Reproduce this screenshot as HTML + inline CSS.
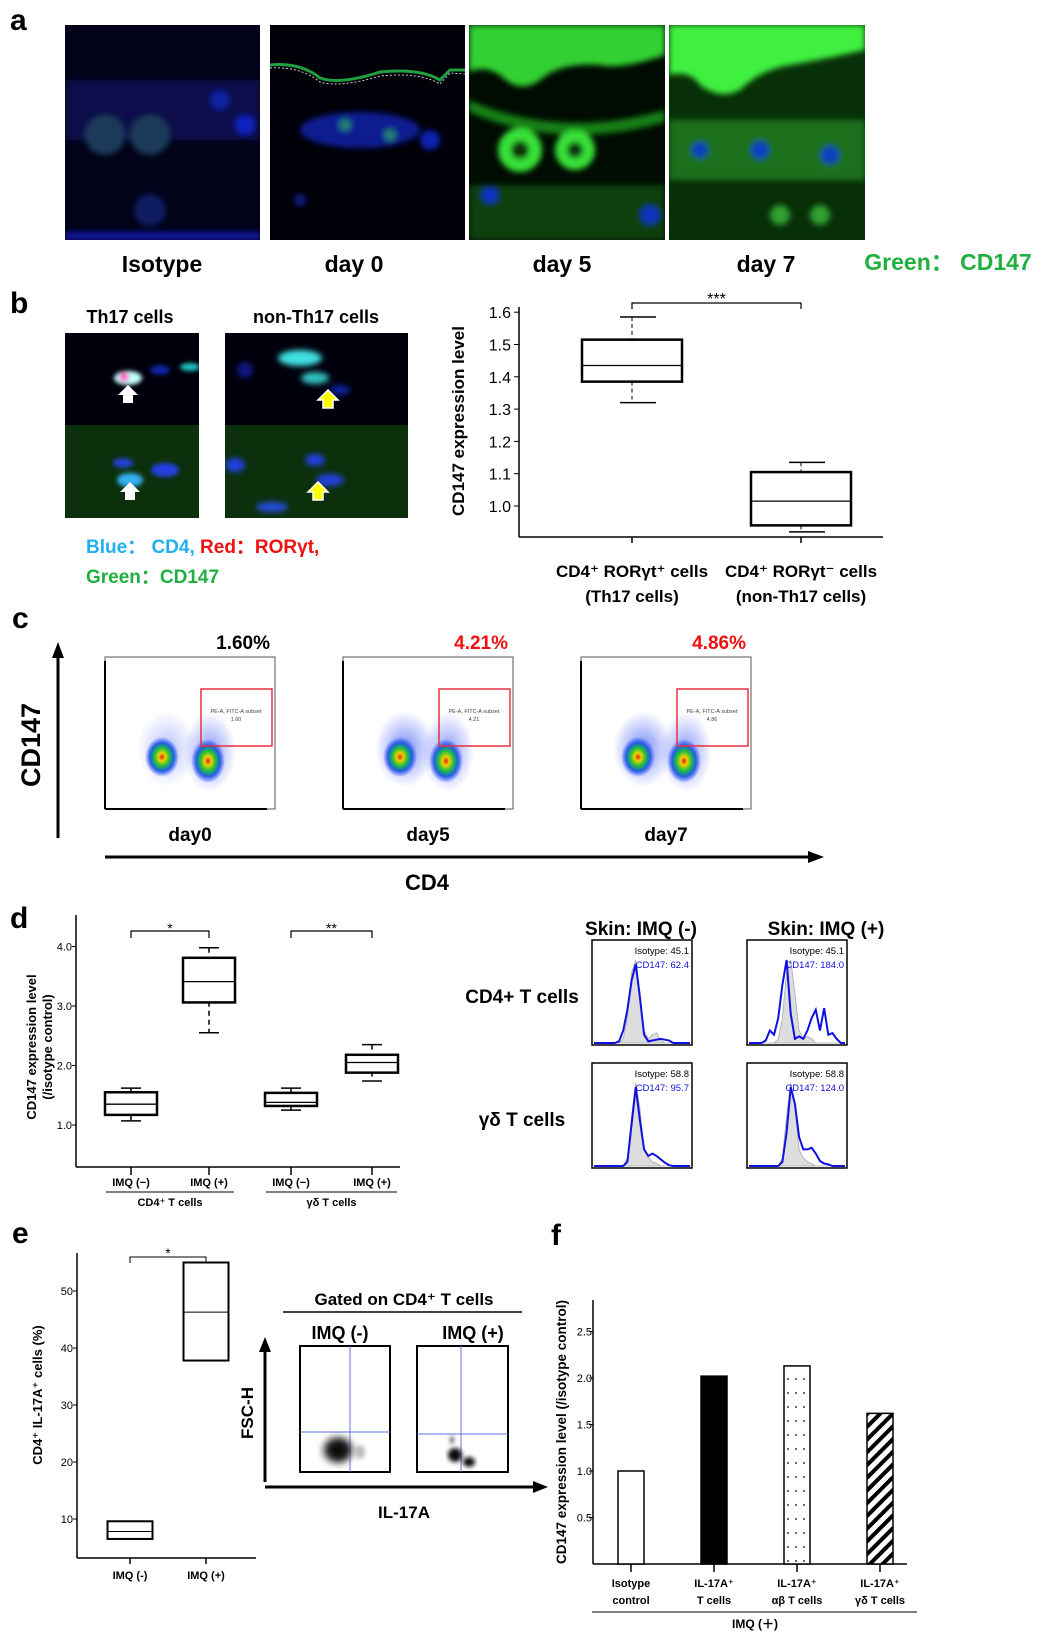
<!DOCTYPE html>
<html><head><meta charset="utf-8"><title>CD147 figure</title>
<style>
html,body{margin:0;padding:0;background:#fff}
svg{display:block}
text{font-family:"Liberation Sans","DejaVu Sans",sans-serif}
.b{font-weight:bold}
</style></head>
<body>
<svg id="fig" xmlns="http://www.w3.org/2000/svg" width="1052" height="1642" viewBox="0 0 1052 1642">
<defs>
<filter id="blur3"><feGaussianBlur stdDeviation="3"/></filter>
<filter id="blur2"><feGaussianBlur stdDeviation="2"/></filter>
<clipPath id="cA1"><rect x="65" y="25" width="195" height="215"/></clipPath>
<clipPath id="cA2"><rect x="270" y="25" width="195" height="215"/></clipPath>
<clipPath id="cA3"><rect x="469" y="25" width="196" height="215"/></clipPath>
<clipPath id="cA4"><rect x="669" y="25" width="196" height="215"/></clipPath>
<clipPath id="cB1"><rect x="65" y="333" width="134" height="185"/></clipPath>
<clipPath id="cB2"><rect x="225" y="333" width="183" height="185"/></clipPath>
<radialGradient id="dens"><stop offset="0" stop-color="#e02010"/><stop offset="0.2" stop-color="#f0d000"/><stop offset="0.45" stop-color="#20c040"/><stop offset="0.7" stop-color="#2060e0"/><stop offset="1" stop-color="#3040ff" stop-opacity="0"/></radialGradient>
<radialGradient id="densB"><stop offset="0" stop-color="#2050e0" stop-opacity="0.8"/><stop offset="1" stop-color="#3040ff" stop-opacity="0"/></radialGradient>
<radialGradient id="gray"><stop offset="0" stop-color="#000"/><stop offset="0.5" stop-color="#222"/><stop offset="1" stop-color="#888" stop-opacity="0"/></radialGradient>
<pattern id="dots" width="8" height="14" patternUnits="userSpaceOnUse"><rect width="8" height="14" fill="#fff"/><circle cx="4" cy="7" r="0.9" fill="#000"/></pattern>
<pattern id="hatch" width="9" height="9" patternUnits="userSpaceOnUse" patternTransform="rotate(-45)"><rect width="9" height="9" fill="#fff"/><rect width="9" height="4" fill="#000"/></pattern>
</defs>

<!-- ============ PANEL A ============ -->
<g>
<text x="10" y="30" class="b" font-size="30">a</text>
<g clip-path="url(#cA1)">
<rect x="65" y="25" width="195" height="215" fill="#020318"/>
<g filter="url(#blur3)"><rect x="65" y="80" width="195" height="60" fill="#0a1560" opacity="0.7"/>
<circle cx="105" cy="135" r="20" fill="#1a3a5a"/><circle cx="150" cy="135" r="20" fill="#1a3a5a"/><circle cx="245" cy="125" r="10" fill="#1020c0"/><circle cx="220" cy="100" r="10" fill="#1020a0"/><circle cx="150" cy="210" r="16" fill="#0a1a60"/><rect x="65" y="232" width="195" height="8" fill="#0818a0"/></g></g>
<g clip-path="url(#cA2)">
<rect x="270" y="25" width="195" height="215" fill="#000008"/>
<path d="M270 65 Q300 62 320 78 Q340 85 380 72 Q420 68 440 80 L450 70 L465 70" stroke="#20a040" stroke-width="3" fill="none"/>
<path d="M270 68 Q300 66 320 82 Q340 88 380 76 Q420 72 440 84 L450 73 L465 74" stroke="#ccc" stroke-width="1" stroke-dasharray="2 2" fill="none"/>
<g filter="url(#blur3)"><ellipse cx="360" cy="130" rx="60" ry="18" fill="#0a1a90"/><circle cx="345" cy="125" r="6" fill="#208070"/><circle cx="390" cy="135" r="6" fill="#208070"/><circle cx="430" cy="140" r="10" fill="#1020b0"/><circle cx="300" cy="200" r="6" fill="#0a1a80"/></g></g>
<g clip-path="url(#cA3)">
<rect x="469" y="25" width="196" height="215" fill="#000c02"/>
<g filter="url(#blur3)"><path d="M469 25 L665 25 L665 55 Q620 70 600 65 Q560 62 540 80 Q520 95 500 75 Q485 65 469 72Z" fill="#30d030"/>
<path d="M469 100 Q560 140 665 110 L665 122 Q560 152 469 112Z" fill="#168016"/>
<circle cx="520" cy="150" r="22" fill="#38e038"/><circle cx="575" cy="150" r="20" fill="#38e038"/><circle cx="520" cy="150" r="9" fill="#0a3010"/><circle cx="575" cy="150" r="8" fill="#0a3010"/>
<rect x="469" y="185" width="196" height="55" fill="#0a400a"/><circle cx="490" cy="195" r="8" fill="#1030c0"/><circle cx="650" cy="215" r="9" fill="#1030c0"/></g></g>
<g clip-path="url(#cA4)">
<rect x="669" y="25" width="196" height="215" fill="#083008"/>
<g filter="url(#blur3)"><path d="M669 25 L865 25 L865 50 Q820 60 790 65 Q760 70 740 90 Q720 100 700 85 Q690 70 669 75Z" fill="#40f040"/>
<rect x="669" y="120" width="196" height="60" fill="#1a701a"/><circle cx="700" cy="150" r="8" fill="#1040c0"/><circle cx="760" cy="150" r="9" fill="#1040c0"/><circle cx="830" cy="155" r="9" fill="#1040c0"/><circle cx="780" cy="215" r="10" fill="#30a030"/><circle cx="820" cy="215" r="10" fill="#30a030"/></g></g>
<text x="162" y="272" text-anchor="middle" class="b" font-size="23">Isotype</text>
<text x="354" y="272" text-anchor="middle" class="b" font-size="23">day 0</text>
<text x="562" y="272" text-anchor="middle" class="b" font-size="23">day 5</text>
<text x="766" y="272" text-anchor="middle" class="b" font-size="23">day 7</text>
<text x="948" y="270" text-anchor="middle" class="b" font-size="23" fill="#20b040" font-family="Liberation Sans, Noto Sans CJK JP, sans-serif">Green： CD147</text>
</g>

<!-- ============ PANEL B ============ -->
<g>
<text x="10" y="313" class="b" font-size="30">b</text>
<text x="130" y="323" text-anchor="middle" class="b" font-size="18">Th17 cells</text>
<text x="316" y="323" text-anchor="middle" class="b" font-size="18">non-Th17 cells</text>
<g clip-path="url(#cB1)">
<rect x="65" y="333" width="134" height="92" fill="#00000c"/><rect x="65" y="425" width="134" height="93" fill="#0c300c"/>
<g filter="url(#blur2)"><ellipse cx="128" cy="378" rx="14" ry="7" fill="#c0ffff"/><circle cx="124" cy="377" r="5" fill="#ff60c0"/><ellipse cx="190" cy="367" rx="10" ry="4" fill="#20c0c0"/><ellipse cx="160" cy="370" rx="10" ry="5" fill="#1020a0"/>
<ellipse cx="130" cy="480" rx="13" ry="7" fill="#30b0f0"/><ellipse cx="165" cy="470" rx="14" ry="7" fill="#2040e0"/><ellipse cx="123" cy="463" rx="10" ry="5" fill="#2040d0"/></g>
<path d="M128 385 L138 395 L133 395 L133 403 L123 403 L123 395 L118 395Z" fill="#fff"/>
<path d="M130 482 L140 492 L135 492 L135 500 L125 500 L125 492 L120 492Z" fill="#fff"/></g>
<g clip-path="url(#cB2)">
<rect x="225" y="333" width="183" height="92" fill="#00000c"/><rect x="225" y="425" width="183" height="93" fill="#0c300c"/>
<g filter="url(#blur3)"><ellipse cx="300" cy="358" rx="22" ry="8" fill="#40e0e0"/><ellipse cx="315" cy="378" rx="14" ry="6" fill="#30c0c0"/><ellipse cx="340" cy="390" rx="10" ry="5" fill="#1020a0"/><circle cx="245" cy="370" r="8" fill="#101880"/>
<ellipse cx="315" cy="460" rx="10" ry="6" fill="#2040e0"/><ellipse cx="330" cy="480" rx="14" ry="6" fill="#2040e0"/><ellipse cx="235" cy="465" rx="10" ry="7" fill="#2040e0"/><ellipse cx="272" cy="507" rx="16" ry="5" fill="#2050e0"/></g>
<path d="M328 390 L338 400 L333 400 L333 408 L323 408 L323 400 L318 400Z" fill="#ff0" stroke="#fff" stroke-width="1.5"/>
<path d="M318 482 L328 492 L323 492 L323 500 L313 500 L313 492 L308 492Z" fill="#ff0" stroke="#fff" stroke-width="1.5"/></g>
<text x="86" y="553" class="b" font-size="19" font-family="Liberation Sans, Noto Sans CJK JP, sans-serif"><tspan fill="#20b0f0">Blue：  CD4, </tspan><tspan fill="#f01010">Red：RORγt,</tspan></text>
<text x="86" y="583" class="b" font-size="19" fill="#20b040" font-family="Liberation Sans, Noto Sans CJK JP, sans-serif">Green：CD147</text>
<g id="chartB"></g>
</g>

<!-- ============ PANEL C ============ -->
<g>
<text x="12" y="628" class="b" font-size="30">c</text>
<line x1="58" y1="838" x2="58" y2="655" stroke="#000" stroke-width="3"/><path d="M52 658 L58 642 L64 658Z" fill="#000"/>
<text transform="translate(40,745) rotate(-90)" text-anchor="middle" class="b" font-size="27">CD147</text>
<line x1="105" y1="857" x2="812" y2="857" stroke="#000" stroke-width="3"/><path d="M808 851 L824 857 L808 863Z" fill="#000"/>
<text x="427" y="890" text-anchor="middle" class="b" font-size="22">CD4</text>
<g id="flowC"></g>
</g>

<!-- ============ PANEL D ============ -->
<g>
<text x="10" y="928" class="b" font-size="30">d</text>
<text transform="translate(36,1047) rotate(-90)" text-anchor="middle" class="b" font-size="13">CD147 expression level</text>
<text transform="translate(52,1047) rotate(-90)" text-anchor="middle" class="b" font-size="13">(/isotype control)</text>
<g id="chartD"></g>
<text x="641" y="935" text-anchor="middle" class="b" font-size="19">Skin: IMQ (-)</text>
<text x="826" y="935" text-anchor="middle" class="b" font-size="19">Skin: IMQ (+)</text>
<text x="522" y="1003" text-anchor="middle" class="b" font-size="19">CD4+ T cells</text>
<text x="522" y="1126" text-anchor="middle" class="b" font-size="19">γδ T cells</text>
<g id="hists"></g>
</g>

<!-- ============ PANEL E ============ -->
<g>
<text x="12" y="1243" class="b" font-size="30">e</text>
<text transform="translate(42,1395) rotate(-90)" text-anchor="middle" class="b" font-size="13">CD4⁺ IL-17A⁺ cells (%)</text>
<g id="chartE"></g>
<text x="404" y="1305" text-anchor="middle" class="b" font-size="17">Gated on CD4⁺ T cells</text>
<line x1="283" y1="1312" x2="522" y2="1312" stroke="#000" stroke-width="1.5"/>
<text x="340" y="1339" text-anchor="middle" class="b" font-size="18">IMQ (-)</text>
<text x="473" y="1339" text-anchor="middle" class="b" font-size="18">IMQ (+)</text>
<line x1="265" y1="1482" x2="265" y2="1350" stroke="#000" stroke-width="3"/><path d="M259 1352 L265 1337 L271 1352Z" fill="#000"/>
<line x1="265" y1="1487" x2="535" y2="1487" stroke="#000" stroke-width="3"/><path d="M533 1481 L548 1487 L533 1493Z" fill="#000"/>
<text transform="translate(253,1413) rotate(-90)" text-anchor="middle" class="b" font-size="17">FSC-H</text>
<text x="404" y="1518" text-anchor="middle" class="b" font-size="17">IL-17A</text>
<g>
<rect x="300" y="1346" width="90" height="126" fill="#fff" stroke="#000" stroke-width="2"/>
<line x1="300" y1="1432" x2="390" y2="1432" stroke="#6070e0"/><line x1="350" y1="1346" x2="350" y2="1472" stroke="#6070e0"/>
<g filter="url(#blur2)"><ellipse cx="338" cy="1450" rx="20" ry="18" fill="url(#gray)"/><ellipse cx="360" cy="1452" rx="5" ry="7" fill="#bbb"/></g></g>
<g>
<rect x="417" y="1346" width="91" height="126" fill="#fff" stroke="#000" stroke-width="2"/>
<line x1="417" y1="1434" x2="508" y2="1434" stroke="#6070e0"/><line x1="461" y1="1346" x2="461" y2="1472" stroke="#6070e0"/>
<g filter="url(#blur2)"><ellipse cx="455" cy="1455" rx="7" ry="7" fill="#111"/><ellipse cx="469" cy="1462" rx="6" ry="5" fill="#111"/><ellipse cx="452" cy="1440" rx="2" ry="4" fill="#555"/></g></g>
</g>

<!-- ============ PANEL F ============ -->
<g>
<text x="551" y="1245" class="b" font-size="30">f</text>
<text transform="translate(566,1432) rotate(-90)" text-anchor="middle" class="b" font-size="13.5">CD147 expression level (/isotype control)</text>
<g id="chartF"></g>
</g>
</svg>

<script>
// ---------- Panel b data ----------
const bCats = ['CD4⁺ RORγt⁺  cells', 'CD4⁺ RORγt⁻ cells'];
const bSub = ['(Th17 cells)', '(non-Th17 cells)'];
const bLo = [1.32, 0.92];
const bQ1 = [1.385, 0.94];
const bMed = [1.435, 1.015];
const bQ3 = [1.515, 1.105];
const bHi = [1.585, 1.135];
const bTicks = ['1.0','1.1','1.2','1.3','1.4','1.5','1.6'];

// ---------- Panel d data ----------
const dCats = ['IMQ (−)','IMQ (+)','IMQ (−)','IMQ (+)'];
const dGroups = ['CD4⁺ T cells','γδ T cells'];
const dLo = [1.07, 2.55, 1.25, 1.74];
const dQ1 = [1.17, 3.06, 1.32, 1.88];
const dMed = [1.35, 3.41, 1.38, 2.05];
const dQ3 = [1.55, 3.81, 1.54, 2.18];
const dHi = [1.62, 3.98, 1.62, 2.35];
const dTicks = ['1.0','2.0','3.0','4.0'];

// ---------- Panel e data ----------
const eCats = ['IMQ (-)','IMQ (+)'];
const eQ1 = [6.5, 37.8];
const eMed = [7.8, 46.3];
const eQ3 = [9.6, 55.0];
const eTicks = ['10','20','30','40','50'];

// ---------- Panel f data ----------
const fCats = [['Isotype','control'],['IL-17A⁺','T cells'],['IL-17A⁺','αβ T cells'],['IL-17A⁺','γδ T cells']];
const fVals = [1.0, 2.02, 2.13, 1.62];
const fTicks = ['0.5','1.0','1.5','2.0','2.5'];

// ---------- Panel c data ----------
const cDays = ['day0','day5','day7'];
const cPct = ['1.60%','4.21%','4.86%'];
const cGate = ['1.60','4.21','4.86'];
const cPctColor = ['#000','#f01010','#f01010'];

// ---------- Panel d histograms data (relative counts, 24 bins) ----------
const hIso = [
 [0,0,0,0,0,0,0,.05,.3,.85,1,.6,.15,.05,.1,.12,.03,0,0,0,0,0,0,0],
 [0,0,0,0,0,0,0,.05,.3,.85,1,.6,.15,.05,.08,.05,0,0,0,0,0,0,0,0],
 [0,0,0,0,0,0,0,0,.1,.6,1,.7,.2,.1,.05,.03,0,0,0,0,0,0,0,0],
 [0,0,0,0,0,0,0,0,.1,.6,1,.7,.2,.1,.05,.03,0,0,0,0,0,0,0,0]];
const hCd = [
 [0,0,0,0,0,0,.02,.15,.4,.75,.95,.55,.1,.02,.03,.04,.05,.04,.03,0,0,0,0,0],
 [0,0,0,0,.03,.15,.1,.3,.7,1,.35,.05,.08,.05,.15,.3,.4,.15,.42,.1,.12,.05,0,0],
 [0,0,0,0,0,0,0,0,.05,.5,.95,.55,.2,.12,.15,.12,.08,.04,.01,0,0,0,0,0],
 [0,0,0,0,0,0,0,0,.05,.4,.95,.75,.35,.2,.2,.22,.15,.06,.03,.02,0,0,0,0]];
const hIsoLbl = ['Isotype: 45.1','Isotype: 45.1','Isotype: 58.8','Isotype: 58.8'];
const hCdLbl = ['CD147: 62.4','CD147: 184.0','CD147: 95.7','CD147: 124.0'];

const NS = 'http://www.w3.org/2000/svg';
function mk(parent, tag, attrs, txt) {
  const el = document.createElementNS(NS, tag);
  for (const k in attrs) el.setAttribute(k, attrs[k]);
  if (txt !== undefined) el.textContent = txt;
  parent.appendChild(el);
  return el;
}

// ===== Boxplot b =====
(function(){
  const g = document.getElementById('chartB');
  const y = v => 506 - (v - 1.0) * 323;
  const xc = i => 632 + i * 169;
  mk(g,'line',{x1:519,y1:307,x2:519,y2:537,stroke:'#000','stroke-width':1.5});
  mk(g,'line',{x1:519,y1:537,x2:883,y2:537,stroke:'#000','stroke-width':1.5});
  bTicks.forEach(t => {
    const yy = y(parseFloat(t));
    const tk = mk(g,'line',{x1:514,y1:yy,x2:519,y2:yy,stroke:'#000'});
    
    
    const lb = mk(g,'text',{x:511,y:yy+6,'text-anchor':'end','font-size':16},t);
    
    
  });
  const yl = mk(g,'text',{transform:'translate(464,421) rotate(-90)','text-anchor':'middle','font-size':17,'class':'b'},'CD147 expression level');
  
  
  bCats.forEach((c,i) => {
    const x = xc(i), w = 100;
    mk(g,'line',{x1:x,y1:537,x2:x,y2:543,stroke:'#000','stroke-width':1.5});
    mk(g,'line',{x1:x,y1:y(bHi[i]),x2:x,y2:y(bQ3[i]),stroke:'#000','stroke-dasharray':'4 3'});
    mk(g,'line',{x1:x,y1:y(bQ1[i]),x2:x,y2:y(bLo[i]),stroke:'#000','stroke-dasharray':'4 3'});
    mk(g,'line',{x1:x-12,y1:y(bHi[i]),x2:x+24,y2:y(bHi[i]),stroke:'#000','stroke-width':1.5});
    mk(g,'line',{x1:x-12,y1:y(bLo[i]),x2:x+24,y2:y(bLo[i]),stroke:'#000','stroke-width':1.5});
    const r = mk(g,'rect',{x:x-w/2,y:y(bQ3[i]),width:w,height:y(bQ1[i])-y(bQ3[i]),fill:'#fff',stroke:'#000','stroke-width':2.5});
    
    
    mk(g,'line',{x1:x-w/2,y1:y(bMed[i]),x2:x+w/2,y2:y(bMed[i]),stroke:'#000','stroke-width':1.2});
    const t1 = mk(g,'text',{x:x,y:577,'text-anchor':'middle','font-size':17,'class':'b'},c);
    
    
    const t2 = mk(g,'text',{x:x,y:602,'text-anchor':'middle','font-size':17,'class':'b'},bSub[i]);
    
    
  });
  mk(g,'path',{d:`M${xc(0)} 309 V303 H${xc(1)} V309`,fill:'none',stroke:'#000','stroke-width':1.2});
  const s = mk(g,'text',{x:(xc(0)+xc(1))/2,y:304,'text-anchor':'middle','font-size':16},'***');
  
  
})();

// ===== Flow plots c =====
(function(){
  const g = document.getElementById('flowC');
  const lefts = [105, 343, 581];
  cDays.forEach((d,i) => {
    const x0 = lefts[i], w = 170, y0 = 657, h = 152;
    const r = mk(g,'rect',{x:x0,y:y0,width:w,height:h,fill:'#fff',stroke:'#555','stroke-width':1});
    
    
    mk(g,'line',{x1:x0,y1:y0+4,x2:x0,y2:y0+h,stroke:'#000','stroke-width':2});
    mk(g,'line',{x1:x0,y1:y0+h,x2:x0+w-8,y2:y0+h,stroke:'#000','stroke-width':2});
    mk(g,'ellipse',{cx:x0+62,cy:y0+92,rx:30,ry:38,fill:'url(#densB)',opacity:i==0?0.4:0.8});
    mk(g,'ellipse',{cx:x0+105,cy:y0+95,rx:26,ry:40,fill:'url(#densB)',opacity:0.7});
    mk(g,'ellipse',{cx:x0+57,cy:y0+100,rx:17,ry:20,fill:'url(#dens)'});
    mk(g,'ellipse',{cx:x0+103,cy:y0+104,rx:17,ry:22,fill:'url(#dens)'});
    const gate = mk(g,'rect',{x:x0+96,y:y0+32,width:71,height:57,fill:'none',stroke:'#e83040','stroke-width':1.5});
    
    
    mk(g,'text',{x:x0+131,y:y0+56,'text-anchor':'middle','font-size':5.5,fill:'#444'},'PE-A, FITC-A subset');
    mk(g,'text',{x:x0+131,y:y0+64,'text-anchor':'middle','font-size':5.5,fill:'#444'},cGate[i]);
    const p = mk(g,'text',{x:x0+w-5,y:y0-8,'text-anchor':'end','font-size':19,'class':'b',fill:cPctColor[i]},cPct[i]);
    
    
    const dl = mk(g,'text',{x:x0+85,y:841,'text-anchor':'middle','font-size':19,'class':'b'},d);
    
    
  });
})();

// ===== Boxplot d =====
(function(){
  const g = document.getElementById('chartD');
  const y = v => 1125 - (v - 1) * 59.5;
  const xc = [131, 209, 291, 372];
  mk(g,'line',{x1:76,y1:915,x2:76,y2:1167,stroke:'#000','stroke-width':1.5});
  mk(g,'line',{x1:76,y1:1167,x2:400,y2:1167,stroke:'#000','stroke-width':1.5});
  dTicks.forEach(t => {
    const yy = y(parseFloat(t));
    mk(g,'line',{x1:72,y1:yy,x2:76,y2:yy,stroke:'#000'});
    const lb = mk(g,'text',{x:72,y:yy+4,'text-anchor':'end','font-size':11},t);
    
    
  });
  dCats.forEach((c,i) => {
    const x = xc[i], w = 52;
    mk(g,'line',{x1:x,y1:1167,x2:x,y2:1175,stroke:'#000','stroke-width':1.5});
    mk(g,'line',{x1:x,y1:y(dHi[i]),x2:x,y2:y(dLo[i]),stroke:'#000','stroke-width':1.5,'stroke-dasharray':'5 4'});
    mk(g,'line',{x1:x-10,y1:y(dHi[i]),x2:x+10,y2:y(dHi[i]),stroke:'#000','stroke-width':1.5});
    mk(g,'line',{x1:x-10,y1:y(dLo[i]),x2:x+10,y2:y(dLo[i]),stroke:'#000','stroke-width':1.5});
    const r = mk(g,'rect',{x:x-w/2,y:y(dQ3[i]),width:w,height:y(dQ1[i])-y(dQ3[i]),fill:'#fff',stroke:'#000','stroke-width':2.5});
    
    
    mk(g,'line',{x1:x-w/2,y1:y(dMed[i]),x2:x+w/2,y2:y(dMed[i]),stroke:'#000','stroke-width':1.3});
    const lb = mk(g,'text',{x:x,y:1186,'text-anchor':'middle','font-size':11,'class':'b'},c);
    
    
  });
  dGroups.forEach((gname,j) => {
    const a = xc[2*j]-25, b = xc[2*j+1]+25;
    mk(g,'line',{x1:a,y1:1192,x2:b,y2:1192,stroke:'#000','stroke-width':1});
    const lb = mk(g,'text',{x:(a+b)/2,y:1206,'text-anchor':'middle','font-size':11,'class':'b'},gname);
    
    
    mk(g,'path',{d:`M${xc[2*j]} 938 V931 H${xc[2*j+1]} V938`,fill:'none',stroke:'#000','stroke-width':1.2});
    const s = mk(g,'text',{x:(xc[2*j]+xc[2*j+1])/2,y:933,'text-anchor':'middle','font-size':14},j==0?'*':'**');
    
    
  });
})();

// ===== Histograms d =====
(function(){
  const g = document.getElementById('hists');
  const pos = [[592,940],[747,940],[592,1063],[747,1063]];
  pos.forEach((p,k) => {
    const [x0,y0] = p, w = 100, h = 105;
    const r = mk(g,'rect',{x:x0,y:y0,width:w,height:h,fill:'#fff',stroke:'#000','stroke-width':1.5});
    
    
    const n = hIso[k].length;
    const px = i => x0 + 2 + i * (w-4)/(n-1);
    const py = v => y0 + h - 2 - v * (h-22);
    let d = `M${px(0)} ${py(0)}`;
    hIso[k].forEach((v,i) => d += ` L${px(i)} ${py(v)}`);
    d += ` L${px(n-1)} ${py(0)}Z`;
    const iso = mk(g,'path',{d:d,fill:'#ddd',stroke:'#aaa','stroke-width':0.8});
    
    
    let d2 = '';
    hCd[k].forEach((v,i) => d2 += (i? ' L':'M') + px(i) + ' ' + py(v));
    const cd = mk(g,'path',{d:d2,fill:'none',stroke:'#1010e0','stroke-width':2});
    
    
    const t1 = mk(g,'text',{x:x0+w-3,y:y0+14,'text-anchor':'end','font-size':9.5},hIsoLbl[k]);
    
    
    const t2 = mk(g,'text',{x:x0+w-3,y:y0+28,'text-anchor':'end','font-size':9.5,fill:'#1010e0'},hCdLbl[k]);
    
    
  });
})();

// ===== Boxplot e =====
(function(){
  const g = document.getElementById('chartE');
  const y = v => 1519 - (v - 10) * 5.7;
  const xc = [130, 206];
  mk(g,'line',{x1:77,y1:1253,x2:77,y2:1558,stroke:'#000','stroke-width':1.5});
  mk(g,'line',{x1:77,y1:1558,x2:256,y2:1558,stroke:'#000','stroke-width':1.5});
  eTicks.forEach(t => {
    const yy = y(parseFloat(t));
    mk(g,'line',{x1:73,y1:yy,x2:77,y2:yy,stroke:'#000'});
    const lb = mk(g,'text',{x:73,y:yy+4,'text-anchor':'end','font-size':11},t);
    
    
  });
  eCats.forEach((c,i) => {
    const x = xc[i], w = 45;
    mk(g,'line',{x1:x,y1:1558,x2:x,y2:1564,stroke:'#000','stroke-width':1.5});
    const r = mk(g,'rect',{x:x-w/2,y:y(eQ3[i]),width:w,height:y(eQ1[i])-y(eQ3[i]),fill:'#fff',stroke:'#000','stroke-width':2});
    
    
    mk(g,'line',{x1:x-w/2,y1:y(eMed[i]),x2:x+w/2,y2:y(eMed[i]),stroke:'#000','stroke-width':1});
    const lb = mk(g,'text',{x:x,y:1579,'text-anchor':'middle','font-size':11,'class':'b'},c);
    
    
  });
  mk(g,'path',{d:`M${xc[0]} 1263 V1257 H${xc[1]} V1263`,fill:'none',stroke:'#000','stroke-width':1});
  const s = mk(g,'text',{x:(xc[0]+xc[1])/2,y:1258,'text-anchor':'middle','font-size':14},'*');
  
  
})();

// ===== Bar chart f =====
(function(){
  const g = document.getElementById('chartF');
  const y = v => 1564 - v * 93;
  const xc = i => 631 + i * 83;
  const fills = ['#fff','#000','url(#dots)','url(#hatch)'];
  mk(g,'line',{x1:593,y1:1300,x2:593,y2:1564,stroke:'#000','stroke-width':1.5});
  mk(g,'line',{x1:593,y1:1564,x2:907,y2:1564,stroke:'#000','stroke-width':1.5});
  fTicks.forEach(t => {
    const yy = y(parseFloat(t));
    mk(g,'line',{x1:589,y1:yy,x2:593,y2:yy,stroke:'#000'});
    const lb = mk(g,'text',{x:592,y:yy+4,'text-anchor':'end','font-size':11},t);
    
    
  });
  fVals.forEach((v,i) => {
    const x = xc(i), w = 26;
    const r = mk(g,'rect',{x:x-w/2,y:y(v),width:w,height:1564-y(v),fill:fills[i],stroke:'#000','stroke-width':1.5});
    
    
    mk(g,'line',{x1:x,y1:1564,x2:x,y2:1572,stroke:'#000','stroke-width':1.5});
    fCats[i].forEach((line,j) => {
      const lb = mk(g,'text',{x:x,y:1587+j*17,'text-anchor':'middle','font-size':11,'class':'b'},line);
      
      
    });
  });
  mk(g,'line',{x1:592,y1:1612,x2:917,y2:1612,stroke:'#000','stroke-width':1});
  const gl = mk(g,'text',{x:755,y:1628,'text-anchor':'middle','font-size':12,'class':'b'},'IMQ (＋)');
  
  
})();
</script>
</body></html>
